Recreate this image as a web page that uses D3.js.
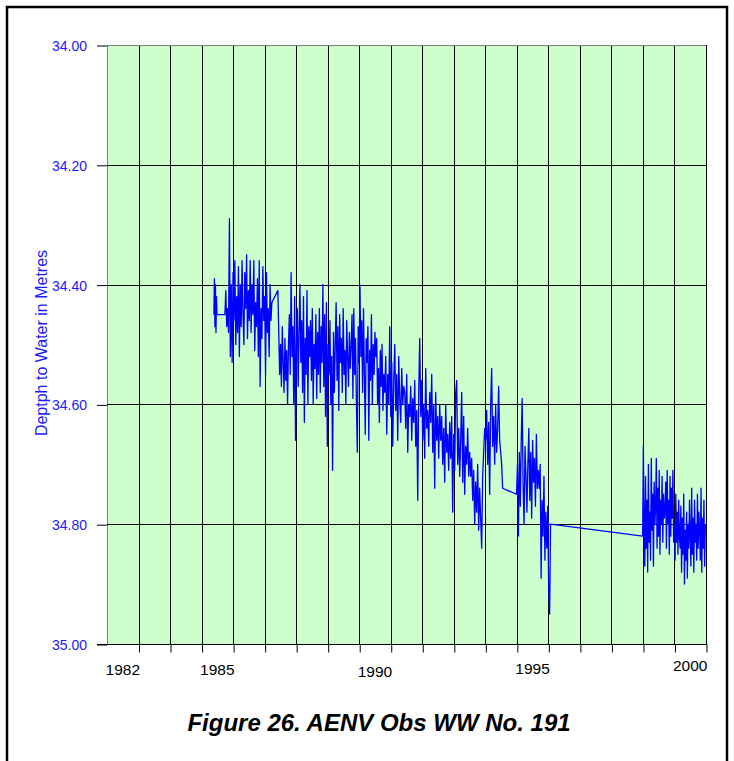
<!DOCTYPE html>
<html><head><meta charset="utf-8">
<script src="https://cdn.jsdelivr.net/npm/d3@7"></script>
<style>body{margin:0;background:#fff}svg{display:block}</style>
</head><body>
<svg id="chart" width="734" height="761"></svg>
<script>
// ---- data ----
const yTickValues = [34.0, 34.2, 34.4, 34.6, 34.8, 35.0];
const yTickLabels = ["34.00", "34.20", "34.40", "34.60", "34.80", "35.00"];
const gridYears = [1982,1983,1984,1985,1986,1987,1988,1989,1990,1991,1992,1993,1994,1995,1996,1997,1998,1999,2000,2001];
const xLabelYears = [1982, 1985, 1990, 1995, 2000];
const xLabelText = ["1982", "1985", "1990", "1995", "2000"];

// continuous runs of readings: [first date, last date] in decimal years, then the depths (m)
const run1Span = [1985.39, 1985.49];
const run1Depths = [34.45,34.39,34.47,34.40,34.48,34.42,34.45];

const run2Span = [1985.74, 1987.23];
const run2Depths = [34.45,34.41,34.47,34.44,34.48,34.29,34.52,34.40,34.53,34.38,34.46,34.36,34.50,34.42,34.48,34.37,34.52,34.40,34.47,34.36,34.45,34.50,34.38,34.44,34.35,34.49,34.41,34.46,34.36,34.48,34.40,34.45,34.36,34.51,34.43,34.47,34.39,34.52,34.36,34.57,34.44,34.49,34.37,34.46,34.42,34.55,34.38,34.48,34.44,34.52,34.40,34.46,34.43];

const run3Span = [1987.42, 1990.78];
const run3Depths = [34.41,34.48,34.55,34.50,34.57,34.47,34.53,34.58,34.49,34.56,34.51,34.60,34.50,
  34.45,34.55,34.38,34.52,34.47,34.60,34.42,34.66,34.50,34.44,34.57,34.48,
  34.40,34.53,34.46,34.58,34.42,34.63,34.49,34.55,34.41,34.60,34.47,34.52,
  34.46,34.56,34.44,34.60,34.50,34.54,34.45,34.59,34.48,34.55,34.44,34.58,
  34.47,34.53,34.40,34.57,34.45,34.62,34.43,34.67,34.50,34.55,34.46,34.60,
  34.52,34.71,34.48,34.58,
  34.50,34.43,34.56,34.47,34.61,34.45,34.53,34.49,34.58,34.44,34.55,34.51,34.60,34.46,34.52,34.57,34.48,34.54,
  34.50,34.45,34.59,34.44,34.55,34.49,34.60,34.68,34.47,34.53,34.40,34.52,
  34.46,34.58,34.44,34.55,34.65,34.49,34.53,34.47,34.66,34.51,34.56,34.45,34.60,34.50,34.55,34.48,
  34.52,34.49,34.60,34.54,34.63,34.51,34.57,34.50,34.61,34.55];

const run4Span = [1990.81, 1994.55];
const run4Depths = [34.58,34.52,34.65,34.55,34.60,34.47,34.62,34.53,34.67,34.56,
  34.50,34.61,34.55,34.66,34.52,34.59,34.63,34.54,34.60,34.57,
  34.58,34.64,34.55,34.68,34.60,34.62,34.57,34.66,34.59,34.63,34.56,34.67,34.61,34.76,34.58,34.49,
  34.62,34.56,34.66,34.60,34.69,34.54,34.64,34.61,34.67,34.58,
  34.63,34.55,34.68,34.60,34.74,34.58,34.66,34.62,34.69,34.60,
  34.66,34.62,34.70,34.64,34.73,34.60,34.68,34.65,34.71,34.63,
  34.69,34.62,34.78,34.65,34.71,34.58,34.56,34.70,34.64,34.72,
  34.66,34.58,34.73,34.62,34.75,34.67,34.70,34.64,34.72,34.68,
  34.72,34.69,34.76,34.71,34.80,34.73,34.78,34.70,34.81,34.74,34.79,34.84,
  34.72,34.68,34.64,
  34.66,34.61,34.70,34.63,34.75,34.60,34.54,
  34.67,34.62,34.70,34.60,34.68,34.64,34.57,34.66,
  34.68,34.70,34.74];

const run5Span = [1994.99, 1996.07];
const run5Depths = [34.75,34.70,34.82,34.68,34.77,34.66,34.59,34.74,34.80,34.67,34.72,34.78,
  34.70,34.64,34.76,34.68,34.79,34.66,34.73,34.69,34.77,34.65,34.74,34.71,
  34.74,34.70,34.89,34.76,34.82,34.72,34.86,34.78,
  34.84,34.77,34.91,34.95,34.80];

const run6Span = [1998.99, 2000.98];
const run6Depths = [34.82,34.67,34.80,34.87,34.72,34.84,
  34.76,34.88,34.70,34.83,34.78,34.86,34.69,34.81,34.75,34.87,34.73,34.80,
  34.77,34.69,34.84,34.74,34.82,34.71,34.85,34.76,34.80,34.72,34.83,34.75,34.79,34.78,
  34.73,34.84,34.71,34.80,34.76,34.85,34.72,34.82,34.74,34.79,34.71,34.83,
  34.80,34.86,34.75,34.83,34.78,34.85,34.76,34.82,
  34.84,34.77,34.88,34.79,34.85,34.75,34.90,34.81,34.86,34.78,34.89,34.80,34.84,34.76,
  34.82,34.87,34.74,34.85,34.79,34.88,34.76,34.83,34.80,34.86,34.75,34.84,34.78,34.81,
  34.86,34.74,34.88,34.79,34.84,34.76,34.87,34.80];

const runs = [[run1Span, run1Depths],[run2Span, run2Depths],[run3Span, run3Depths],
              [run4Span, run4Depths],[run5Span, run5Depths],[run6Span, run6Depths]];

// ---- drawing ----
const FONT = "'Liberation Sans', Arial, Helvetica, sans-serif";
const svg = d3.select("#chart");
const L = 107, R = 706, T = 45, B = 644;
const x = d3.scaleLinear().domain([1982, 2001]).range([L, R]);
const y = d3.scaleLinear().domain([34, 35]).range([T, B]);
const cr = v => Math.round(v) + 0.5;

// outer frame
svg.append("rect").attr("x", 7).attr("y", 7).attr("width", 720).attr("height", 780)
  .attr("fill", "none").attr("stroke", "#000").attr("stroke-width", 2.5);

// plot background
svg.append("rect").attr("x", L).attr("y", T).attr("width", R - L).attr("height", B - T)
  .attr("fill", "#ccffcc");

// vertical gridlines
svg.append("g").selectAll("line").data(gridYears).join("line")
  .attr("x1", d => cr(x(d))).attr("x2", d => cr(x(d)))
  .attr("y1", T).attr("y2", B)
  .attr("stroke", d => d === 1982 ? "#808080" : "#000").attr("stroke-width", 1);

// horizontal gridlines
svg.append("g").selectAll("line").data(yTickValues).join("line")
  .attr("x1", L).attr("x2", R)
  .attr("y1", d => cr(y(d))).attr("y2", d => cr(y(d)))
  .attr("stroke", d => d === 34.0 ? "#808080" : "#000").attr("stroke-width", 1);

// bottom axis with ticks below
const xAxis = d3.axisBottom(x).tickValues(gridYears.slice(1)).tickSize(8).tickSizeOuter(0).tickFormat("");
const gx = svg.append("g").attr("transform", `translate(0.5,${cr(B)})`).call(xAxis);
gx.select(".domain").remove();
gx.selectAll("line").attr("stroke", "#000");
svg.append("line").attr("x1", 97).attr("x2", R + 1).attr("y1", cr(B)).attr("y2", cr(B)).attr("stroke", "#000");

// x labels centred in their year band
const labelBase = [675, 675, 677, 674, 671];
svg.append("g").selectAll("text").data(xLabelYears).join("text")
  .attr("x", d => x(d + 0.5)).attr("y", (d, i) => labelBase[i])
  .attr("text-anchor", "middle").attr("font-family", FONT).attr("font-size", 15.5)
  .attr("fill", "#000").text((d, i) => xLabelText[i]);

// left axis: ticks outward and labels
const yAxis = d3.axisLeft(y).tickValues(yTickValues).tickSize(10).tickSizeOuter(0)
  .tickFormat((d, i) => yTickLabels[i]);
const gy = svg.append("g").attr("transform", `translate(${L},0.5)`).call(yAxis);
gy.select(".domain").remove();
gy.selectAll("line").attr("stroke", "#000");
gy.selectAll("text").attr("font-family", FONT).attr("font-size", 14).attr("fill", "#1a1aff")
  .attr("x", -20).attr("dy", "0.35em");

// axis title
svg.append("text").attr("transform", "translate(47,343) rotate(-90)")
  .attr("text-anchor", "middle").attr("font-family", FONT).attr("font-size", 16)
  .attr("fill", "#1a1aff").text("Deptph to Water in Metres");

// data line
const points = [];
runs.forEach(([span, depths]) => {
  const n = depths.length;
  depths.forEach((v, i) => points.push([span[0] + (span[1] - span[0]) * (n > 1 ? i / (n - 1) : 0), v]));
});
svg.append("path").datum(points)
  .attr("d", d3.line().x(d => x(d[0])).y(d => y(d[1])))
  .attr("fill", "none").attr("stroke", "#0000ff").attr("stroke-width", 1.3).attr("stroke-linejoin", "round");

// figure caption
svg.append("text").attr("x", 379).attr("y", 731).attr("text-anchor", "middle")
  .attr("font-family", FONT).attr("font-size", 24).attr("font-weight", "bold").attr("font-style", "italic")
  .attr("fill", "#000").text("Figure 26. AENV Obs WW No. 191");
</script>
</body></html>
